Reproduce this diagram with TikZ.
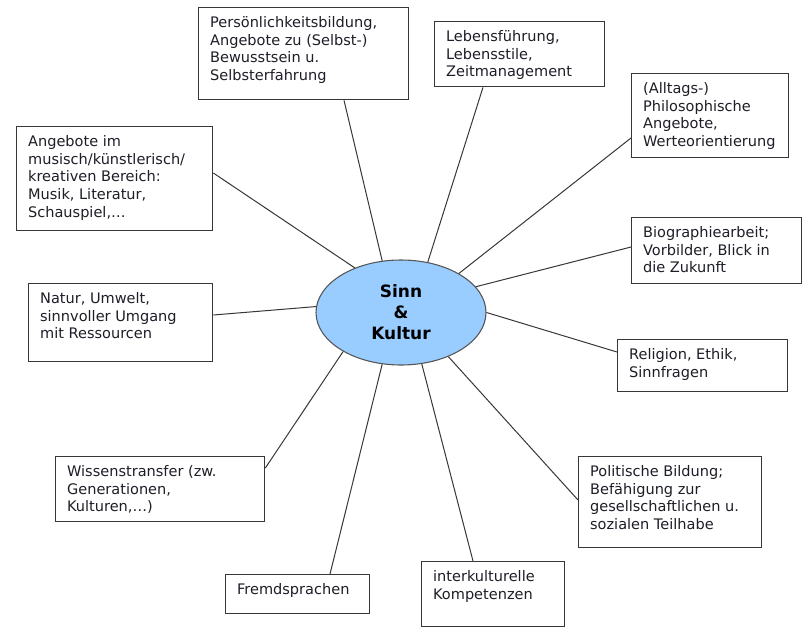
\documentclass[tikz,border=0pt]{standalone}
\usepackage{fontspec}
\setmainfont{DejaVu Sans}
\usetikzlibrary{shapes.geometric, calc}
\definecolor{hellblau}{RGB}{153,204,255}
\definecolor{rahmen}{RGB}{55,55,55}
\definecolor{schrift}{RGB}{30,30,40}
\newdimen\pxu \pxu=0.75pt
\newcommand{\kastentext}[3]{\parbox[c][#2\pxu][t]{#1\pxu}{\raggedright\leftskip=8.6pt\vspace*{6.8pt}#3}}

\begin{document}
\begin{tikzpicture}
        [x=0.75pt, y=-0.75pt,
        kasten/.style={draw=rahmen, line width=1pt, fill=white, inner sep=0, anchor=north west, text=schrift, font=\fontsize{10.9pt}{13.2pt}\selectfont},
        mitte/.style={draw=rahmen!85, line width=0.8pt, ellipse, fill=hellblau, inner sep=0, minimum width=127.5pt, minimum height=78.75pt, align=center, font=\bfseries\fontsize{12.75pt}{15.75pt}\selectfont},
        linie/.style={draw=rahmen, line width=0.75pt}]

        \useasboundingbox (0,0) rectangle (809,628);

        \node[mitte] (m) at (401,312.5) {Sinn\\ \&\\ Kultur};

        \node[kasten] (k1) at (198,7) {\kastentext{210}{92}{Persönlichkeitsbildung,\\ Angebote zu (Selbst-)\\ Bewusstsein u.\\ Selbsterfahrung}};
        \node[kasten] (k2) at (434,21) {\kastentext{170}{65}{Lebensführung,\\ Lebensstile,\\ Zeitmanagement}};
        \node[kasten] (k3) at (631,73) {\kastentext{157}{84}{(Alltags-)\\ Philosophische\\ Angebote,\\ Werteorientierung}};
        \node[kasten] (k4) at (631,217) {\kastentext{170}{66}{Biographiearbeit;\\ Vorbilder, Blick in\\ die Zukunft}};
        \node[kasten] (k5) at (617,339) {\kastentext{170}{52}{Religion, Ethik,\\ Sinnfragen}};
        \node[kasten] (k6) at (578,456) {\kastentext{183}{91}{Politische Bildung;\\ Befähigung zur\\ gesellschaftlichen u.\\ sozialen Teilhabe}};
        \node[kasten] (k7) at (421,561) {\kastentext{143}{65}{interkulturelle\\ Kompetenzen}};
        \node[kasten] (k8) at (225,574) {\kastentext{144}{39}{Fremdsprachen}};
        \node[kasten] (k9) at (55,456) {\kastentext{209}{65}{Wissenstransfer (zw.\\ Generationen,\\ Kulturen,…)}};
        \node[kasten] (k10) at (28,283) {\kastentext{184}{78}{Natur, Umwelt,\\ sinnvoller Umgang\\ mit Ressourcen}};
        \node[kasten] (k11) at (16,126) {\kastentext{196}{104}{Angebote im\\ musisch/künstlerisch/\\ kreativen Bereich:\\ Musik, Literatur,\\ Schauspiel,…}};

        \draw[linie] (m.110) -- ($(k1.south west)+(146,0)$);
        \draw[linie] (m.62) -- ($(k2.south west)+(49,0)$);
        \draw[linie] (m.34) -- ($(k3.north west)+(0,65)$);
        \draw[linie] (m.19) -- ($(k4.north west)+(0,30)$);
        \draw[linie] (m.0) -- ($(k5.north west)+(0,13)$);
        \draw[linie] (m.-43) -- ($(k6.north west)+(0,44)$);
        \draw[linie] (m.-68) -- ($(k7.north west)+(52,0)$);
        \draw[linie] (m.-110) -- ($(k8.north west)+(105,0)$);
        \draw[linie] (m.-146) -- ($(k9.north east)+(0,12)$);
        \draw[linie] (m.176) -- ($(k10.north east)+(0,32)$);
        \draw[linie] (m.136) -- ($(k11.north east)+(0,47)$);

      \end{tikzpicture}
\end{document}
